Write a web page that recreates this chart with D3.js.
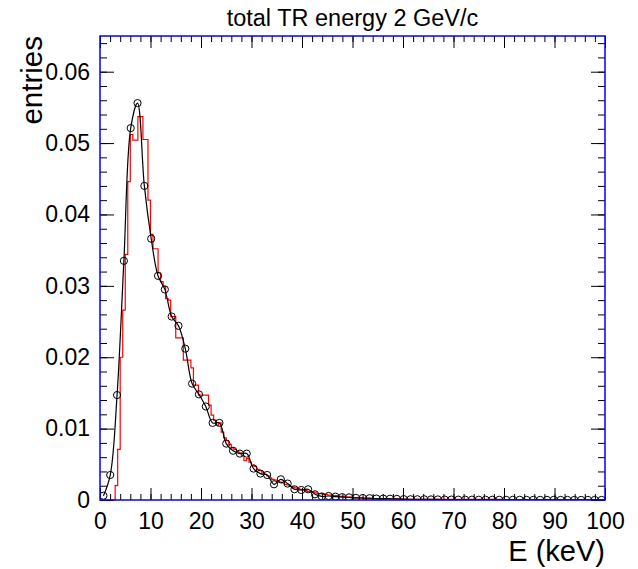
<!DOCTYPE html>
<html>
<head>
<meta charset="utf-8">
<script src="https://cdn.jsdelivr.net/npm/d3@7"></script>
<style>
body { margin: 0; background: #fff; }
text { font-family: "Liberation Sans", Arial, sans-serif; }
</style>
</head>
<body>
<div id="chart"></div>
<script>
// measured points (black, circles)
var pointE = [0.68, 2.03, 3.38, 4.73, 6.08, 7.43, 8.78, 10.14, 11.49, 12.84,
  14.19, 15.54, 16.89, 18.24, 19.59, 20.95, 22.30, 23.65, 25.00, 26.35,
  27.70, 29.05, 30.41, 31.76, 33.11, 34.46, 35.81, 37.16, 38.51, 39.86,
  41.22, 42.57, 43.92, 45.27, 46.62, 47.97, 49.32, 50.68, 52.03, 53.38,
  54.73, 56.08, 57.43, 58.78, 60.14, 61.49, 62.84, 64.19, 65.54, 66.89,
  68.24, 69.59, 70.95, 72.30, 73.65, 75.00, 76.35, 77.70, 79.05, 80.41,
  81.76, 83.11, 84.46, 85.81, 87.16, 88.51, 89.86, 91.22, 92.57, 93.92,
  95.27, 96.62, 97.97, 99.32];
var pointY = [0.0006, 0.0035, 0.0147, 0.0335, 0.0521, 0.0556, 0.0440, 0.0366, 0.0314, 0.0295,
  0.0257, 0.0244, 0.0212, 0.0163, 0.0148, 0.0131, 0.0108, 0.0108, 0.0079, 0.0069,
  0.0065, 0.0065, 0.0044, 0.0037, 0.0035, 0.0022, 0.0029, 0.0023, 0.0015, 0.0014,
  0.0015, 0.0008, 0.0005, 0.00056, 0.00047, 0.0004, 0.00037, 0.0003, 0.00028, 0.00025,
  0.0002, 0.0002, 0.00018, 0.00015, 0.00012, 0.0001, 0.0001, 0.0001, 0.00008, 0.00008,
  0.00006, 0.00006, 0.00005, 0.00005, 0.00005, 0.00004, 0.00004, 0.00004, 0.00003, 0.00003,
  0.00003, 0.00003, 0.00002, 0.00002, 0.00002, 0.00002, 0.00002, 0.00001, 0.00001, 0.00001,
  0.00001, 0.00001, 0.00001, 0.00001];

// simulated histogram (red), 0.5 keV bins from 0 to 100
var binWidth = 0.5;
var histY = [0, 0, 0, 0, 0, 0, 0.002, 0.0071, 0.020, 0.0266,
  0.0344, 0.0446, 0.0512, 0.0504, 0.0504, 0.0537, 0.0537, 0.0505, 0.0505, 0.042,
  0.0372, 0.0352, 0.0352, 0.0318, 0.0306, 0.0299, 0.0282, 0.028, 0.0257, 0.0257,
  0.0227, 0.0227, 0.0227, 0.0196, 0.0196, 0.0196, 0.0185, 0.0161, 0.0161, 0.0147,
  0.0147, 0.0147, 0.0147, 0.0133, 0.0119, 0.0112, 0.0105, 0.0108, 0.0095, 0.0087,
  0.0083, 0.0078, 0.0073, 0.0071, 0.0068, 0.0066, 0.0062, 0.0055, 0.0058, 0.0053,
  0.0049, 0.0047, 0.0043, 0.0041, 0.0039, 0.0036, 0.0034, 0.0031, 0.0029, 0.0028,
  0.0027, 0.0025, 0.0024, 0.0022, 0.0021, 0.0019, 0.0018, 0.0017, 0.0016, 0.0015,
  0.0014, 0.0013, 0.0012, 0.0011, 0.0011, 0.0010, 0.0009, 0.0009, 0.0008, 0.0008,
  0.0007, 0.0007, 0.0006, 0.0006, 0.0005, 0.0005, 0.0005, 0.0004, 0.0004, 0.0004,
  0.0003, 0.0003, 0.0003, 0.0003, 0.0002, 0.0002, 0.0002, 0.0002, 0.0002, 0.0002,
  0.00015, 0.00015, 0.00015, 0.00015, 0.00015, 0.00015, 0.00015, 0.00015, 0.00015, 0.00015,
  0.0001, 0.0001, 0.0001, 0.0001, 0.0001, 0.0001, 0.0001, 0.0001, 0.0001, 0.0001,
  0.0001, 0.0001, 0.0001, 0.0001, 0.0001, 0.0001, 0.0001, 0.0001, 0.0001, 0.0001,
  0.00008, 0.00008, 0.00008, 0.00008, 0.00008, 0.00008, 0.00008, 0.00008, 0.00008, 0.00008,
  0.00008, 0.00008, 0.00008, 0.00008, 0.00008, 0.00008, 0.00008, 0.00008, 0.00008, 0.00008,
  0.00006, 0.00006, 0.00006, 0.00006, 0.00006, 0.00006, 0.00006, 0.00006, 0.00006, 0.00006,
  0.00006, 0.00006, 0.00006, 0.00006, 0.00006, 0.00006, 0.00006, 0.00006, 0.00006, 0.00006,
  0.00005, 0.00005, 0.00005, 0.00005, 0.00005, 0.00005, 0.00005, 0.00005, 0.00005, 0.00005,
  0.00005, 0.00005, 0.00005, 0.00005, 0.00005, 0.00005, 0.00005, 0.00005, 0.00005, 0.00005];

var xTicks = [0, 10, 20, 30, 40, 50, 60, 70, 80, 90, 100];
var xMinor = d3.range(0, 101, 2);
var yTicks = [0, 0.01, 0.02, 0.03, 0.04, 0.05, 0.06];
var yMinor = d3.range(0, 0.0651, 0.002);

var title = "total TR energy 2 GeV/c";
var xTitle = "E (keV)";
var yTitle = "entries";

var svgWidth = 638, svgHeight = 569;
var frame = {left: 100, right: 605, top: 36, bottom: 500};

var svg = d3.select("#chart").append("svg")
  .attr("width", svgWidth)
  .attr("height", svgHeight);

var x = d3.scaleLinear().domain([0, 100]).range([frame.left, frame.right]);
var y = d3.scaleLinear().domain([0, 0.065]).range([frame.bottom, frame.top]);

svg.append("clipPath").attr("id", "clip")
  .append("rect")
  .attr("x", frame.left).attr("y", frame.top)
  .attr("width", frame.right - frame.left)
  .attr("height", frame.bottom - frame.top);

// red histogram as steps
var histPts = histY.map(function(v, i) { return [i * binWidth, v]; });
histPts.push([histY.length * binWidth, histY[histY.length - 1]]);

var data = svg.append("g").attr("clip-path", "url(#clip)");

data.append("path")
  .datum(histPts)
  .attr("fill", "none")
  .attr("stroke", "#ff0000")
  .attr("stroke-width", 1.2)
  .attr("d", d3.line()
    .x(d => x(d[0]))
    .y(d => y(d[1]))
    .curve(d3.curveStepAfter));

var pts = pointE.map(function(e, i) { return [e, pointY[i]]; });

data.append("path")
  .datum(pts)
  .attr("fill", "none")
  .attr("stroke", "#000")
  .attr("stroke-width", 1.2)
  .attr("d", d3.line()
    .x(d => x(d[0]))
    .y(d => y(d[1]))
    .curve(d3.curveCatmullRom.alpha(0.5)));

data.selectAll("circle")
  .data(pts)
  .enter()
  .append("circle")
  .attr("cx", d => x(d[0]))
  .attr("cy", d => y(d[1]))
  .attr("r", 3.6)
  .attr("fill", "none")
  .attr("stroke", "#000")
  .attr("stroke-width", 1);

// axes: ticks drawn inward on all four sides
function styleAxis(g) {
  g.select(".domain").remove();
  g.selectAll(".tick line").attr("stroke", "#000").attr("stroke-width", 1);
  g.selectAll("text")
    .attr("font-family", "'Liberation Sans', Arial, sans-serif")
    .attr("font-size", "23px")
    .attr("fill", "#000");
}

svg.append("g")
  .attr("transform", `translate(0, ${frame.bottom})`)
  .call(d3.axisBottom(x).tickValues(xMinor).tickSizeInner(-6).tickSizeOuter(0).tickFormat(""))
  .call(styleAxis);
svg.append("g")
  .attr("transform", `translate(0, ${frame.bottom})`)
  .call(d3.axisBottom(x).tickValues(xTicks).tickSizeInner(-12).tickSizeOuter(0).tickPadding(13).tickFormat(d3.format("d")))
  .call(styleAxis);

svg.append("g")
  .attr("transform", `translate(0, ${frame.top})`)
  .call(d3.axisTop(x).tickValues(xMinor).tickSizeInner(-6).tickSizeOuter(0).tickFormat(""))
  .call(styleAxis);
svg.append("g")
  .attr("transform", `translate(0, ${frame.top})`)
  .call(d3.axisTop(x).tickValues(xTicks).tickSizeInner(-12).tickSizeOuter(0).tickFormat(""))
  .call(styleAxis);

svg.append("g")
  .attr("transform", `translate(${frame.left}, 0)`)
  .call(d3.axisLeft(y).tickValues(yMinor).tickSizeInner(-7).tickSizeOuter(0).tickFormat(""))
  .call(styleAxis);
svg.append("g")
  .attr("transform", `translate(${frame.left}, 0)`)
  .call(d3.axisLeft(y).tickValues(yTicks).tickSizeInner(-14).tickSizeOuter(0).tickPadding(10)
    .tickFormat(d => d === 0 ? "0" : d.toFixed(2)))
  .call(styleAxis);

svg.append("g")
  .attr("transform", `translate(${frame.right}, 0)`)
  .call(d3.axisRight(y).tickValues(yMinor).tickSizeInner(-7).tickSizeOuter(0).tickFormat(""))
  .call(styleAxis);
svg.append("g")
  .attr("transform", `translate(${frame.right}, 0)`)
  .call(d3.axisRight(y).tickValues(yTicks).tickSizeInner(-14).tickSizeOuter(0).tickFormat(""))
  .call(styleAxis);

// blue frame
svg.append("rect")
  .attr("x", frame.left).attr("y", frame.top)
  .attr("width", frame.right - frame.left)
  .attr("height", frame.bottom - frame.top)
  .attr("fill", "none")
  .attr("stroke", "#0000ff")
  .attr("stroke-width", 1.5);

svg.append("text")
  .attr("x", (frame.left + frame.right) / 2)
  .attr("y", 26)
  .attr("text-anchor", "middle")
  .attr("font-size", "23.5px")
  .text(title);

svg.append("text")
  .attr("x", frame.right)
  .attr("y", 561)
  .attr("text-anchor", "end")
  .attr("font-size", "29px")
  .text(xTitle);

svg.append("text")
  .attr("transform", `translate(42, ${frame.top}) rotate(-90)`)
  .attr("text-anchor", "end")
  .attr("font-size", "29.5px")
  .text(yTitle);
</script>
</body>
</html>
